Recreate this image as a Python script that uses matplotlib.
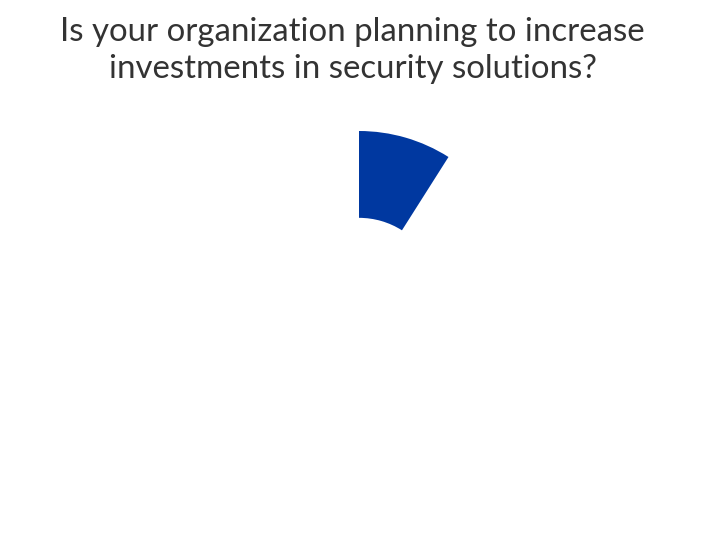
import matplotlib
matplotlib.use("Agg")
import matplotlib.pyplot as plt

# Donut frame: only the first slice is drawn so far
title = "Is your organization planning to increase\ninvestments in security solutions?"
labels = ["Yes", "Not drawn yet"]
shares = [9.0, 91.0]
colors = ["#0038a0", "none"]

fig = plt.figure(figsize=(7.2, 5.4), dpi=100)
fig.patch.set_facecolor("white")

# axes square of 2 * outer radius, centred on the donut centre
W, H = 720, 540
cx, cy, r = 359, 242, 167
ax = fig.add_axes([(cx - r) / W, (cy - r) / H, 2 * r / W, 2 * r / H])
ax.pie(shares, labels=None, colors=colors, startangle=90, counterclock=False,
       radius=1.0, wedgeprops=dict(width=0.52, linewidth=0))
ax.set_xlim(-1, 1)
ax.set_ylim(-1, 1)
ax.set_aspect("equal")
ax.axis("off")

fig.text(0.49, 0.968, title, ha="center", va="top", fontsize=23.8,
         family=["Lato", "DejaVu Sans"], color="#333333", linespacing=1.3)

fig.savefig("out.png", dpi=100)
